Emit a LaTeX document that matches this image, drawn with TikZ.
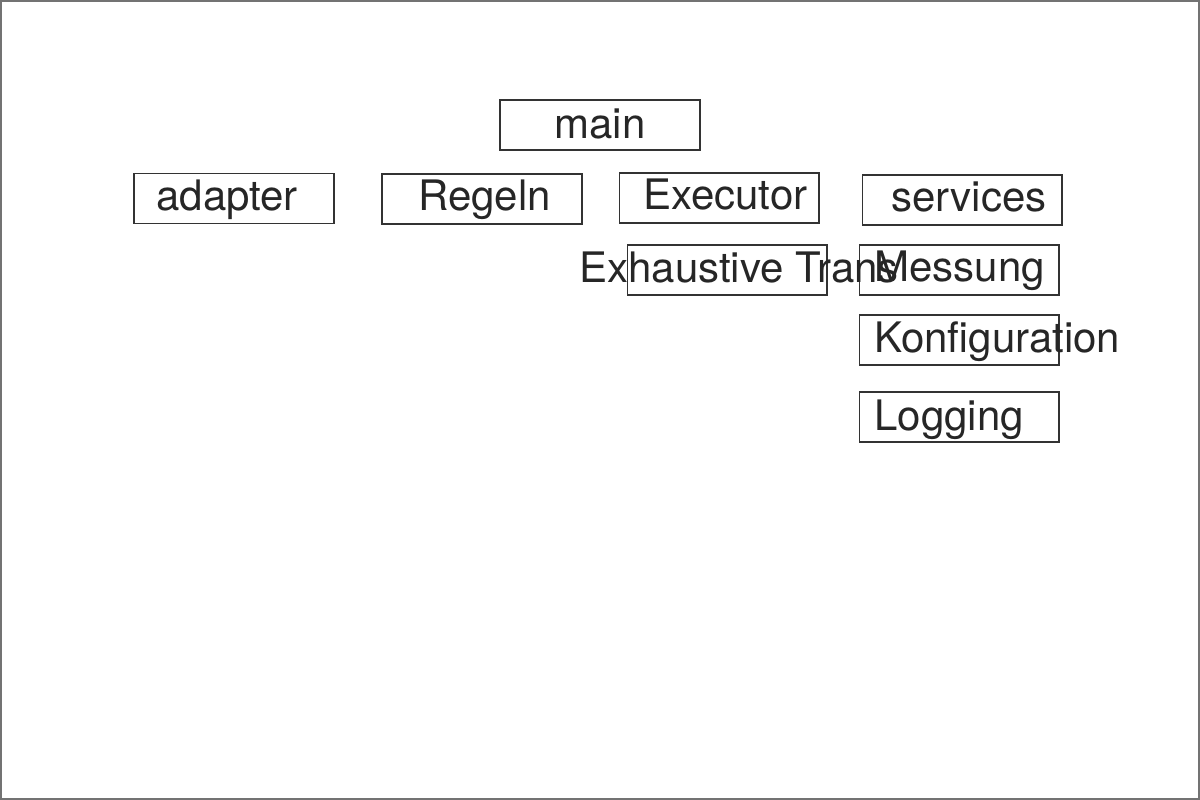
\documentclass[tikz,border=0pt]{standalone}
\usepackage{fontspec}
\setmainfont{TeX Gyre Heros}
\begin{document}
\begin{tikzpicture}[x=0.02cm,y=-0.02cm,
  modul/.style={draw=black!80,line width=0.6pt,minimum width=4cm,minimum height=1cm,inner sep=0pt},
  titel/.style={anchor=base west,inner sep=0pt,text=black!85,font=\fontsize{23.9}{28}\selectfont}]
\useasboundingbox (0,0) rectangle (1200,800);
\draw[black!55,line width=1.1pt] (1,1) rectangle (1199,799);
\node[modul] (main) at (600,125) {};
\node[modul] (adapter) at (234,198.5) {};
\node[modul] (regeln) at (482,199) {};
\node[modul] (executor) at (719,198) {};
\node[modul] (services) at (962,200) {};
\node[modul] (exhaustive) at (727,270) {};
\node[modul] (messung) at (959,270) {};
\node[modul] (konfig) at (959,340) {};
\node[modul] (logging) at (959,417) {};
\node[titel] (mainT) at (554,139) {main};
\node[titel] (adapterT) at (156,211) {adapter};
\node[titel] (regelnT) at (418,211) {Regeln};
\node[titel] (executorT) at (643,210) {Executor};
\node[titel] (servicesT) at (891,212) {services};
\node[titel] (exhaustiveT) at (579,283) {Exhaustive Trans};
\node[titel] (messungT) at (874,282) {Messung};
\node[titel] (konfigT) at (874,353) {Konfiguration};
\node[titel] (loggingT) at (874,430) {Logging};
\end{tikzpicture}
\end{document}
